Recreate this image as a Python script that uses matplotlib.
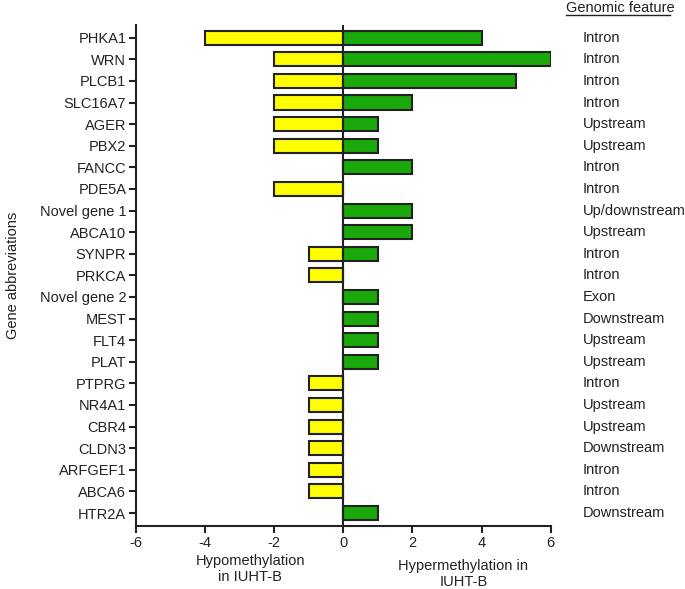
import numpy as np
import matplotlib.pyplot as plt
from matplotlib.lines import Line2D

plt.rcParams['font.family'] = ['Liberation Sans', 'DejaVu Sans']

# === data ===
genes = ["PHKA1", "WRN", "PLCB1", "SLC16A7", "AGER", "PBX2", "FANCC", "PDE5A",
         "Novel gene 1", "ABCA10", "SYNPR", "PRKCA", "Novel gene 2", "MEST",
         "FLT4", "PLAT", "PTPRG", "NR4A1", "CBR4", "CLDN3", "ARFGEF1", "ABCA6",
         "HTR2A"]
hypo = [-4, -2, -2, -2, -2, -2, 0, -2, 0, 0, -1, -1, 0, 0, 0, 0,
        -1, -1, -1, -1, -1, -1, 0]
hyper = [4, 6, 5, 2, 1, 1, 2, 0, 2, 2, 1, 0, 1, 1, 1, 1,
         0, 0, 0, 0, 0, 0, 1]
features = ["Intron", "Intron", "Intron", "Intron", "Upstream", "Upstream",
            "Intron", "Intron", "Up/downstream", "Upstream", "Intron", "Intron",
            "Exon", "Downstream", "Upstream", "Upstream", "Intron", "Upstream",
            "Upstream", "Downstream", "Intron", "Intron", "Downstream"]
xticks = [-6, -4, -2, 0, 2, 4, 6]

FS = 10.5
INK = '#222222'

# === plot ===
fig = plt.figure(figsize=(6.85, 5.89), dpi=100)
ax = fig.add_axes([0.1985, 0.107, 0.6055, 0.851])

y = np.arange(len(genes))
ax.barh(y, hypo, height=0.65, color='#ffff00', edgecolor=INK, linewidth=1.5, zorder=2)
ax.barh(y, hyper, height=0.65, color='#1aa80a', edgecolor=INK, linewidth=1.5, zorder=2)
ax.axvline(0, color=INK, linewidth=1.5, zorder=3)

ax.set_xlim(-6, 6)
ax.set_ylim(len(genes) - 0.4, -0.6)
ax.set_yticks(y)
ax.set_yticklabels(genes, fontsize=FS, color=INK)
ax.set_xticks(xticks)
ax.set_xticklabels([str(t) for t in xticks], fontsize=FS, color=INK)
ax.tick_params(axis='both', width=1.5, length=5, color=INK, pad=2)

for s in ['top', 'right']:
    ax.spines[s].set_visible(False)
for s in ['left', 'bottom']:
    ax.spines[s].set_linewidth(1.5)
    ax.spines[s].set_color(INK)

ax.set_ylabel('Gene abbreviations', fontsize=FS, color=INK, labelpad=14)

# genomic feature column
for yi, f in zip(y, features):
    ax.text(1.077, yi, f, transform=ax.get_yaxis_transform(), ha='left',
            va='center', fontsize=FS, color=INK)
fig.text(0.826, 0.986, 'Genomic feature', ha='left', va='center',
         fontsize=FS, color=INK)
fig.add_artist(Line2D([0.826, 0.978], [0.975, 0.975], color=INK, linewidth=1))

# bottom descriptors
ax.text(-2.69, -0.055, 'Hypomethylation\nin IUHT-B', transform=ax.get_xaxis_transform(),
        ha='center', va='top', fontsize=FS, color=INK)
ax.text(3.47, -0.066, 'Hypermethylation in\nIUHT-B', transform=ax.get_xaxis_transform(),
        ha='center', va='top', fontsize=FS, color=INK)

fig.savefig('out.png', dpi=100)
